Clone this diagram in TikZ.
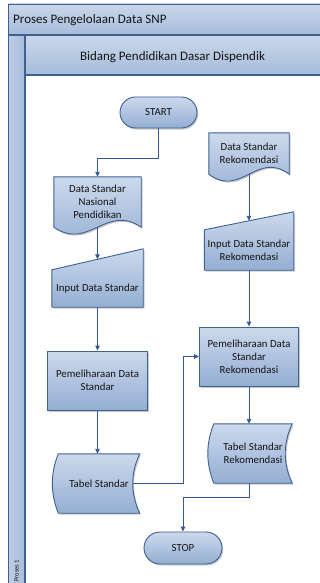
\documentclass[tikz,border=0pt]{standalone}
\usepackage{fontspec}
\setmainfont{Carlito}
\usetikzlibrary{shapes.misc,shadows,calc,arrows.meta,backgrounds}

\definecolor{edge}{RGB}{62,96,146}
\definecolor{lnk}{RGB}{52,88,145}
\definecolor{fillTop}{RGB}{204,217,236}
\definecolor{fillBot}{RGB}{148,174,211}
\definecolor{barTop}{RGB}{202,215,234}
\definecolor{barBot}{RGB}{166,188,218}
\definecolor{stripL}{RGB}{190,205,228}
\definecolor{stripR}{RGB}{168,189,219}
\definecolor{txt}{RGB}{20,20,20}

\tikzset{
  shp/.style={draw=edge, line width=0.9pt, top color=fillTop, bottom color=fillBot,
    drop shadow={shadow xshift=1.3pt, shadow yshift=-1.5pt, opacity=0.35, fill=black!60}},
  body/.style={font=\fontsize{10.8}{13}\selectfont, text=txt, align=center},
  term/.style={shp, body, rounded rectangle, minimum width=77pt, minimum height=31pt, inner sep=0pt},
  proc/.style={shp, body, rectangle, inner sep=0pt},
  lbl/.style={body, inner sep=0pt},
  head/.style={font=\fontsize{13}{15}\selectfont, text=txt, inner sep=0pt},
  conn/.style={draw=lnk, line width=0.9pt, -{Triangle[length=5pt,width=4.6pt]}},
}

\begin{document}
\begin{tikzpicture}[x=1pt,y=-1pt]
\useasboundingbox (0,0) rectangle (320,583);
\clip (0,0) rectangle (320,583);

% swimlane frame
\begin{scope}[on background layer]
  \fill[white] (0,0) rectangle (320,583);
  \shade[top color=barTop, bottom color=barBot] (8,4) rectangle (324,35);
  \shade[top color=barTop, bottom color=barBot] (25,35) rectangle (324,75);
  \shade[left color=stripL, right color=stripR] (8,35) rectangle (25,590);
  \draw[edge, line width=0.9pt] (8,590) -- (8,4) -- (324,4);
  \draw[edge, line width=1.6pt] (8,35) -- (324,35);
  \draw[edge, line width=1.1pt] (25,75) -- (324,75);
  \draw[edge, line width=1.4pt] (25,35) -- (25,590);
\end{scope}

\node[head, anchor=west] (title) at (13,20) {Proses Pengelolaan Data SNP};
\node[head] (lane) at (172.5,57) {Bidang Pendidikan Dasar Dispendik};
\node[rotate=90, anchor=west, font=\fontsize{6.5}{8}\selectfont, text=txt, inner sep=0pt] (laneid) at (16.5,582) {Proses 1};

% flowchart symbols
\node[term] (start) at (158.5,112.5) {START};
\node[term, minimum width=78pt, minimum height=32pt] (stop) at (183,548) {STOP};

\node[lbl, minimum width=87pt, minimum height=50pt] (doc1) at (97.5,202) {Data Standar\\Nasional\\Pendidikan};
\node[lbl, minimum width=91pt, minimum height=37pt] (in1) at (97.5,288.5) {Input Data Standar};
\node[proc, minimum width=100pt, minimum height=59pt] (proc1) at (97.5,380.5) {Pemeliharaan Data\\Standar};
\node[lbl, minimum width=81pt, minimum height=59pt] (tab1) at (99,483.5) {Tabel Standar};

\node[lbl, minimum width=80pt, minimum height=41pt] (doc2) at (249,153.5) {Data Standar\\Rekomendasi};
\node[lbl, minimum width=89pt, minimum height=40pt] (in2) at (249,250) {Input Data Standar\\Rekomendasi};
\node[proc, minimum width=99pt, minimum height=59pt] (proc2) at (249,356.5) {Pemeliharaan Data\\Standar\\Rekomendasi};
\node[lbl, minimum width=78pt, minimum height=59pt] (tab2) at (253,453.5) {Tabel Standar\\Rekomendasi};

% outlines of the document, manual input and stored data symbols
\begin{scope}[on background layer]
  \path[shp] (doc1.south west) -- (doc1.north west) -- (doc1.north east) -- (doc1.south east)
    .. controls ($(doc1.south east)+(-35,-24)$) and ($(doc1.south west)+(35,24)$) .. (doc1.south west) -- cycle;
  \path[shp] (doc2.south west) -- (doc2.north west) -- (doc2.north east) -- (doc2.south east)
    .. controls ($(doc2.south east)+(-32,-24)$) and ($(doc2.south west)+(32,24)$) .. (doc2.south west) -- cycle;
  \path[shp] (in1.south west) -- (in1.north west) -- ($(in1.north east)+(0,-21)$) -- (in1.south east) -- cycle;
  \path[shp] (in2.south west) -- (in2.north west) -- ($(in2.north east)+(0,-18)$) -- (in2.south east) -- cycle;
  \path[shp] (tab1.north west) -- (tab1.north east)
    .. controls ($(tab1.north east)+(-9.3,20)$) and ($(tab1.south east)+(-9.3,-20)$) .. (tab1.south east)
    -- (tab1.south west)
    .. controls ($(tab1.south west)+(-8,-20)$) and ($(tab1.north west)+(-8,20)$) .. (tab1.north west) -- cycle;
  \path[shp] (tab2.north west) -- (tab2.north east)
    .. controls ($(tab2.north east)+(-9.3,20)$) and ($(tab2.south east)+(-9.3,-20)$) .. (tab2.south east)
    -- (tab2.south west)
    .. controls ($(tab2.south west)+(-8,-20)$) and ($(tab2.north west)+(-8,20)$) .. (tab2.north west) -- cycle;
\end{scope}

% connectors
\draw[conn] (start.south) -- ++(0,30) -| (doc1.north);
\draw[conn] (doc1.south) -- ($(in1.north)+(0,-10.5)$);
\draw[conn] (in1.south) -- (proc1.north);
\draw[conn] (proc1.south) -- (proc1.south |- tab1.north);
\draw[conn] ($(tab1.east)+(-7,0)$) -- ++(51,0) |- (proc2.west);
\draw[conn] (doc2.south) -- ($(in2.north)+(0,-9)$);
\draw[conn] (in2.south) -- (proc2.north);
\draw[conn] (proc2.south) -- (proc2.south |- tab2.north);
\draw[conn] (tab2.south -| proc2.south) -- ++(0,14) -| (stop.north);
\end{tikzpicture}
\end{document}
